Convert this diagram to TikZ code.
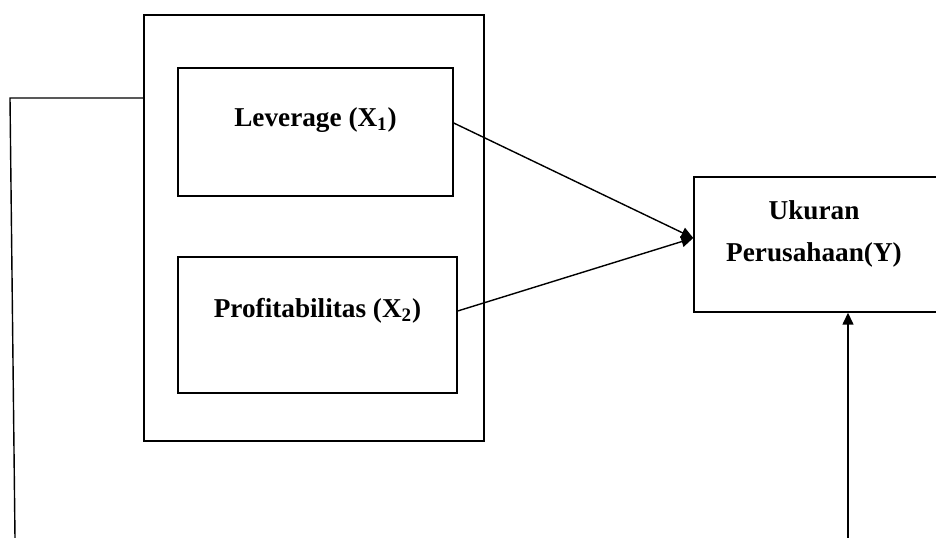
\documentclass[tikz,border=0pt]{standalone}
\usepackage{fontspec}
\setmainfont{Liberation Serif}
\usepackage{tikz}
\usetikzlibrary{positioning,arrows.meta,calc}

\begin{document}
\begin{tikzpicture}[line width=0.8pt,
  box/.style={rectangle,draw=black,fill=white,inner sep=0pt},
  lbl/.style={align=center,font=\fontsize{15.5}{24}\selectfont\bfseries},
  ar/.style={-{Triangle[length=2.4mm,width=2.2mm]}}]
\useasboundingbox (0,0) rectangle (18.72,10.76);
% outer frame with the two variables
\node[box,minimum width=6.8cm,minimum height=8.52cm] (outer) at (6.28,6.2) {};
\node[box,minimum width=5.5cm,minimum height=2.56cm] (lev) at (6.31,8.12) {};
\node[lbl] (levtxt) at ($(lev.center)+(0,0.24)$) {Leverage (X\textsubscript{1})};
\node[box,minimum width=5.58cm,minimum height=2.72cm] (prof) at (6.35,4.26) {};
\node[lbl] (proftxt) at ($(prof.center)+(0,0.28)$) {Profitabilitas (X\textsubscript{2})};
% dependent variable (right side runs off the page)
\node[box,minimum width=4.9cm,minimum height=2.7cm] (uk) at (16.33,5.87) {};
\node[lbl] (uktxt) at ($(uk.center)+(-0.05,0.21)$) {Ukuran\\Perusahaan(Y)};
% connectors
\coordinate (tip) at ($(uk.west)+(0,0.13)$);
\draw[ar] ($(lev.east)+(0,0.18)$) -- (tip);
\draw[ar] ($(prof.east)+(0,0.28)$) -- (tip);
\coordinate (lt) at (0.2,8.8);
\coordinate (lb) at (0.3,0);
\draw ($(outer.west)+(0,2.6)$) -- (lt) -- (lb);
\coordinate (rb) at (16.96,0);
\draw[ar] (rb) -- (rb |- uk.south);
\end{tikzpicture}
\end{document}
